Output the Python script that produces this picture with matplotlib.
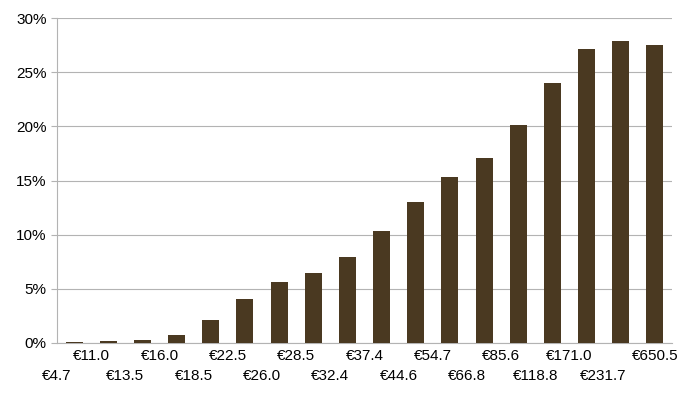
import matplotlib
matplotlib.use("Agg")
import matplotlib.pyplot as plt

labels = ["€4.7","€11.0","€13.5","€16.0","€18.5","€22.5","€26.0","€28.5","€32.4",
          "€37.4","€44.6","€54.7","€66.8","€85.6","€118.8","€171.0","€231.7","€650.5"]
values = [0.1,0.2,0.3,0.7,2.1,4.1,5.6,6.5,7.9,10.3,13.0,15.3,17.1,20.1,24.0,27.1,27.9,27.5]

plt.rcParams['font.family'] = ['Liberation Sans', 'DejaVu Sans']
fig = plt.figure(figsize=(6.95, 4.0), dpi=100)
ax = fig.add_axes([57/695, 1-343/400, 615/695, 325/400])
x = list(range(len(values)))
ax.bar(x, values, width=0.5, color='#4a3921', zorder=3)
ax.set_xlim(-0.5, len(values)-0.5)
ax.set_ylim(0, 30)
ax.set_yticks(range(0, 31, 5))
ax.set_yticklabels([f"{v}%" for v in range(0, 31, 5)], fontsize=11)
ax.yaxis.grid(True, color='#b3b3b3', linewidth=0.8, zorder=0)
ax.set_xticks([i + 0.5 for i in x[:-1]] + [len(values)-0.5])
ax.set_xticks([])
for i, lab in enumerate(labels):
    ax.text(i - 0.5 if i < len(labels)-1 else i, -0.6 if i % 2 else -2.4, lab,
            ha='center', va='top', fontsize=11)
for s in ['top', 'right']:
    ax.spines[s].set_visible(False)
ax.spines['left'].set_color('#b3b3b3')
ax.spines['bottom'].set_color('#b3b3b3')
ax.tick_params(axis='y', length=4, color='#b3b3b3')
fig.savefig("out.png", dpi=100)
